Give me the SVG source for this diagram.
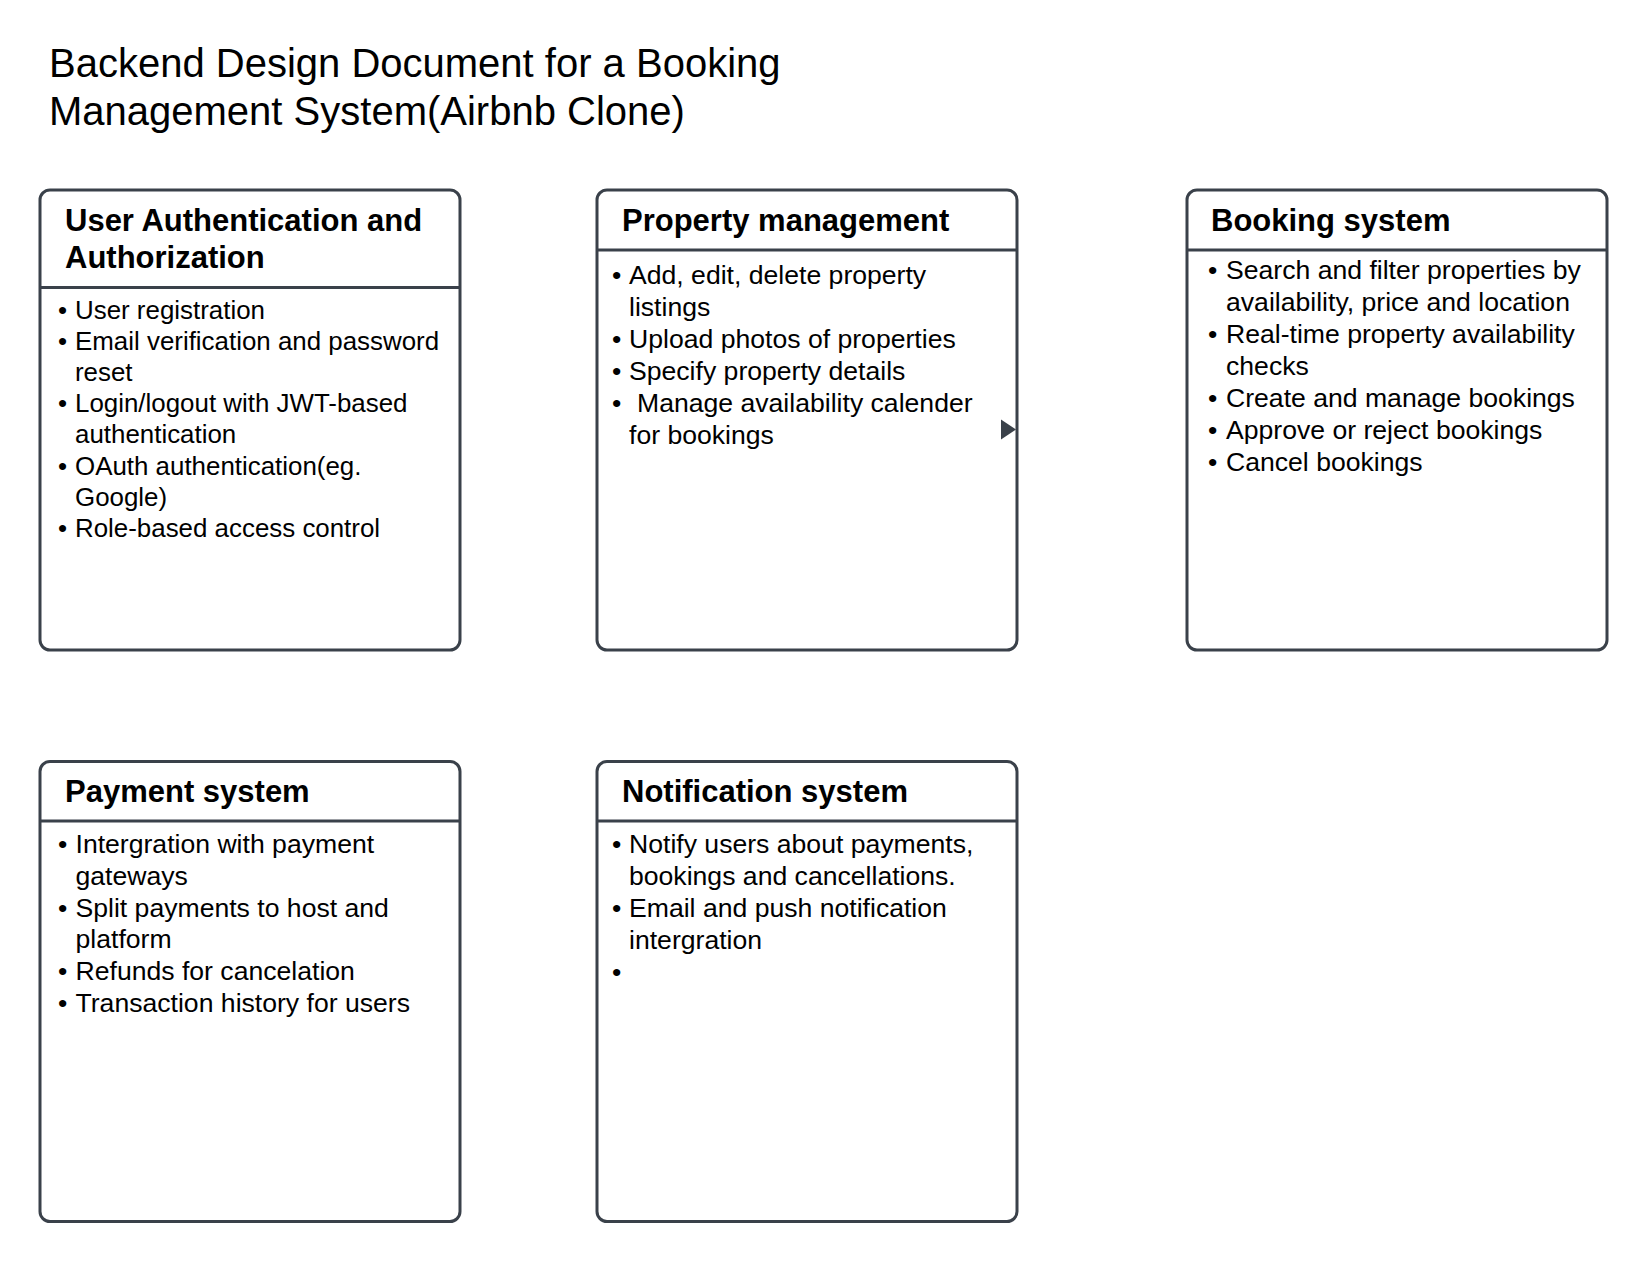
<svg xmlns="http://www.w3.org/2000/svg" width="1647" height="1261" viewBox="0 0 1647 1261">
<style>
.box{fill:#ffffff;stroke:#3a414a;stroke-width:3}
.div{stroke:#3a414a;stroke-width:3}
.title{font-family:"Liberation Sans",Arial,sans-serif;font-size:40px;fill:#000}
.hdr{font-family:"Liberation Sans",Arial,sans-serif;font-size:31px;font-weight:bold;fill:#000}
.body{font-family:"Liberation Sans",Arial,sans-serif;font-size:26.6px;fill:#000}
.body1{font-family:"Liberation Sans",Arial,sans-serif;font-size:25.9px;fill:#000}
</style>
<rect width="1647" height="1261" fill="#ffffff"/>
<g id="title">
<text class="title" x="49" y="77">Backend Design Document for a Booking</text>
<text class="title" x="49" y="125">Management System(Airbnb Clone)</text>
</g>
<g id="node-auth">
<rect class="box" x="40" y="190" width="420" height="460" rx="10"/>
<line class="div" x1="40" y1="287.5" x2="460" y2="287.5"/>
<text class="hdr" x="65" y="231">User Authentication and</text>
<text class="hdr" x="65" y="268">Authorization</text>
<g class="body1">
<text x="58" y="319">•</text><text x="75" y="319">User registration</text>
<text x="58" y="350.1">•</text><text x="75" y="350.1">Email verification and password</text>
<text x="75" y="381.2">reset</text>
<text x="58" y="412.3">•</text><text x="75" y="412.3">Login/logout with JWT-based</text>
<text x="75" y="443.4">authentication</text>
<text x="58" y="474.5">•</text><text x="75" y="474.5">OAuth authentication(eg.</text>
<text x="75" y="505.6">Google)</text>
<text x="58" y="536.7">•</text><text x="75" y="536.7">Role-based access control</text>
</g>
</g>
<g id="node-property">
<rect class="box" x="597" y="190" width="420" height="460" rx="10"/>
<line class="div" x1="597" y1="250" x2="1017" y2="250"/>
<text class="hdr" x="622" y="231">Property management</text>
<g class="body">
<text x="612" y="284">•</text><text x="629" y="284">Add, edit, delete property</text>
<text x="629" y="316">listings</text>
<text x="612" y="348">•</text><text x="629" y="348">Upload photos of properties</text>
<text x="612" y="380">•</text><text x="629" y="380">Specify property details</text>
<text x="612" y="412">•</text><text x="637" y="412">Manage availability calender</text>
<text x="629" y="444">for bookings</text>
</g>
</g>
<g id="node-booking">
<rect class="box" x="1187" y="190" width="420" height="460" rx="10"/>
<line class="div" x1="1187" y1="250" x2="1607" y2="250"/>
<text class="hdr" x="1211" y="231">Booking system</text>
<g class="body">
<text x="1208" y="279">•</text><text x="1226" y="279">Search and filter properties by</text>
<text x="1226" y="311">availability, price and location</text>
<text x="1208" y="343">•</text><text x="1226" y="343">Real-time property availability</text>
<text x="1226" y="375">checks</text>
<text x="1208" y="407">•</text><text x="1226" y="407">Create and manage bookings</text>
<text x="1208" y="439">•</text><text x="1226" y="439">Approve or reject bookings</text>
<text x="1208" y="471">•</text><text x="1226" y="471">Cancel bookings</text>
</g>
</g>
<g id="node-payment">
<rect class="box" x="40" y="761.5" width="420" height="460" rx="10"/>
<line class="div" x1="40" y1="821" x2="460" y2="821"/>
<text class="hdr" x="65" y="802">Payment system</text>
<g class="body">
<text x="58" y="853">•</text><text x="75.5" y="853">Intergration with payment</text>
<text x="75.5" y="884.8">gateways</text>
<text x="58" y="916.6">•</text><text x="75.5" y="916.6">Split payments to host and</text>
<text x="75.5" y="948.4">platform</text>
<text x="58" y="980.2">•</text><text x="75.5" y="980.2">Refunds for cancelation</text>
<text x="58" y="1012">•</text><text x="75.5" y="1012">Transaction history for users</text>
</g>
</g>
<g id="node-notification">
<rect class="box" x="597" y="761.5" width="420" height="460" rx="10"/>
<line class="div" x1="597" y1="821" x2="1017" y2="821"/>
<text class="hdr" x="622" y="802">Notification system</text>
<g class="body">
<text x="612" y="853">•</text><text x="629" y="853">Notify users about payments,</text>
<text x="629" y="885">bookings and cancellations.</text>
<text x="612" y="917">•</text><text x="629" y="917">Email and push notification</text>
<text x="629" y="949">intergration</text>
<text x="612" y="981">•</text>
</g>
</g>
<g id="connectors">
<polygon points="1001,419.5 1016,429.5 1001,439.5" fill="#3a414a"/>
</g>
</svg>
